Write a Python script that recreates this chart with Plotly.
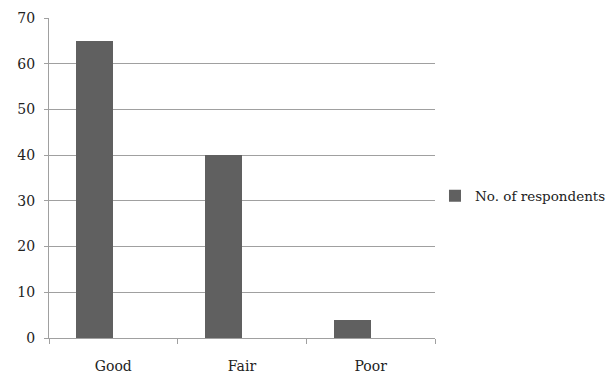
import plotly.graph_objects as go

categories = ["Good", "Fair", "Poor"]
respondents = [65, 40, 4]
y_ticks = [0, 10, 20, 30, 40, 50, 60, 70]

font_family = "DejaVu Serif"

fig = go.Figure()
fig.add_trace(go.Bar(
    x=categories,
    y=respondents,
    name="No. of respondents",
    marker=dict(color="#606060", line=dict(width=0)),
    width=0.287,
    offset=-0.287,
))

fig.update_layout(
    width=613,
    height=374,
    margin=dict(l=49, r=178, t=18, b=36, autoexpand=False),
    paper_bgcolor="white",
    plot_bgcolor="white",
    font=dict(family=font_family, size=12, color="#222222"),
    showlegend=True,
    legend=dict(
        xref="container", yref="container",
        x=0.7096, xanchor="left", y=0.476, yanchor="middle",
        font=dict(family=font_family, size=13.5, color="#222222"),
        bgcolor="rgba(0,0,0,0)",
    ),
    bargap=0,
)

fig.update_xaxes(
    type="category",
    automargin=False,
    showline=True, linecolor="#a0a0a0", linewidth=1,
    ticks="outside", tickson="boundaries", ticklen=5, tickcolor="#a0a0a0",
    showgrid=False,
    ticklabelstandoff=15,
    tickfont=dict(family=font_family, size=14, color="#222222"),
)

fig.update_yaxes(
    range=[0, 70],
    tickvals=y_ticks,
    automargin=False,
    showline=True, linecolor="#a0a0a0", linewidth=1,
    ticks="outside", ticklen=4, tickcolor="#a0a0a0",
    showgrid=True, gridcolor="#a0a0a0", gridwidth=1,
    zeroline=False,
    ticklabelstandoff=6,
    tickfont=dict(family=font_family, size=14, color="#222222"),
)

fig.write_html("out.html")
